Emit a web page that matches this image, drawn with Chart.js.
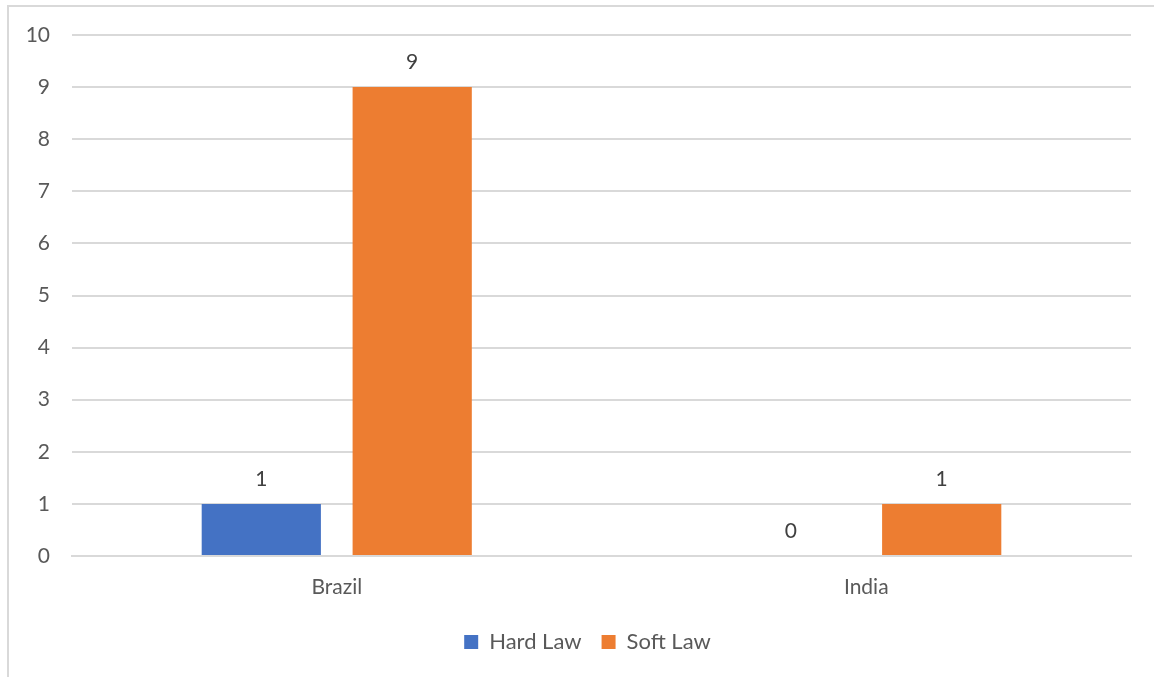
<!DOCTYPE html>
<html>
<head>
<meta charset="utf-8">
<script src="https://cdn.jsdelivr.net/npm/chart.js@4/dist/chart.umd.min.js"></script>
<style>
  body { margin: 0; background: #fff; overflow: hidden; }
  #frame { position: absolute; left: 7px; top: 5px; width: 1200px; height: 720px; border: 2px solid #d9d9d9; }
  #wrap { position: absolute; left: 0; top: 0; width: 1154px; height: 677px; }
</style>
</head>
<body>
<div id="frame"></div>
<div id="wrap"><canvas id="chart"></canvas></div>
<script>
// data
const categories = ['Brazil', 'India'];
const hardLaw = [1, 0];
const softLaw = [9, 1];
const yTicks = [0, 1, 2, 3, 4, 5, 6, 7, 8, 9, 10];

const textColor = '#595959';
const fontFamily = 'Lato, "Liberation Sans", sans-serif';

// value labels above the bars
const valueLabels = {
    id: 'valueLabels',
    afterDatasetsDraw(chart) {
        const ctx = chart.ctx;
        ctx.save();
        ctx.font = '21px ' + fontFamily;
        ctx.fillStyle = '#404040';
        ctx.textAlign = 'center';
        ctx.textBaseline = 'middle';
        chart.data.datasets.forEach((ds, i) => {
            chart.getDatasetMeta(i).data.forEach((bar, j) => {
                ctx.fillText(ds.data[j], bar.x, bar.y - 25);
            });
        });
        ctx.restore();
    }
};

// the legend sits a bit right of centre in the original
const legendShift = {
    id: 'legendShift',
    afterLayout(chart) {
        if (chart.legend) {
            chart.legend.left += 22;
            chart.legend.right += 22;
        }
    }
};

new Chart(document.getElementById('chart'), {
    type: 'bar',
    data: {
        labels: categories,
        datasets: [
            { label: 'Hard Law', data: hardLaw, backgroundColor: '#4472C4' },
            { label: 'Soft Law', data: softLaw, backgroundColor: '#ED7D31' }
        ]
    },
    options: {
        responsive: true,
        maintainAspectRatio: false,
        animation: false,
        categoryPercentage: 0.57,
        barPercentage: 0.79,
        layout: { padding: { top: 35, right: 23, bottom: 14, left: 0 } },
        plugins: {
            tooltip: { enabled: false },
            legend: {
                position: 'bottom',
                labels: {
                    color: textColor,
                    font: { family: fontFamily, size: 22 },
                    boxWidth: 14, boxHeight: 14,
                    padding: 20
                }
            }
        },
        scales: {
            x: {
                grid: { display: false },
                border: { display: true, color: '#d9d9d9', width: 2 },
                ticks: { color: textColor, font: { family: fontFamily, size: 21 }, padding: 11 },
                afterFit(scale) { scale.height = 55; }
            },
            y: {
                min: 0, max: 10,
                afterBuildTicks(scale) { scale.ticks = yTicks.map(v => ({ value: v })); },
                grid: { color: '#d9d9d9', lineWidth: 2, drawTicks: false },
                border: { display: false },
                ticks: { color: textColor, font: { family: fontFamily, size: 21 }, padding: 22 },
                afterFit(scale) { scale.width = 72; }
            }
        }
    },
    plugins: [valueLabels, legendShift]
});
</script>
</body>
</html>
